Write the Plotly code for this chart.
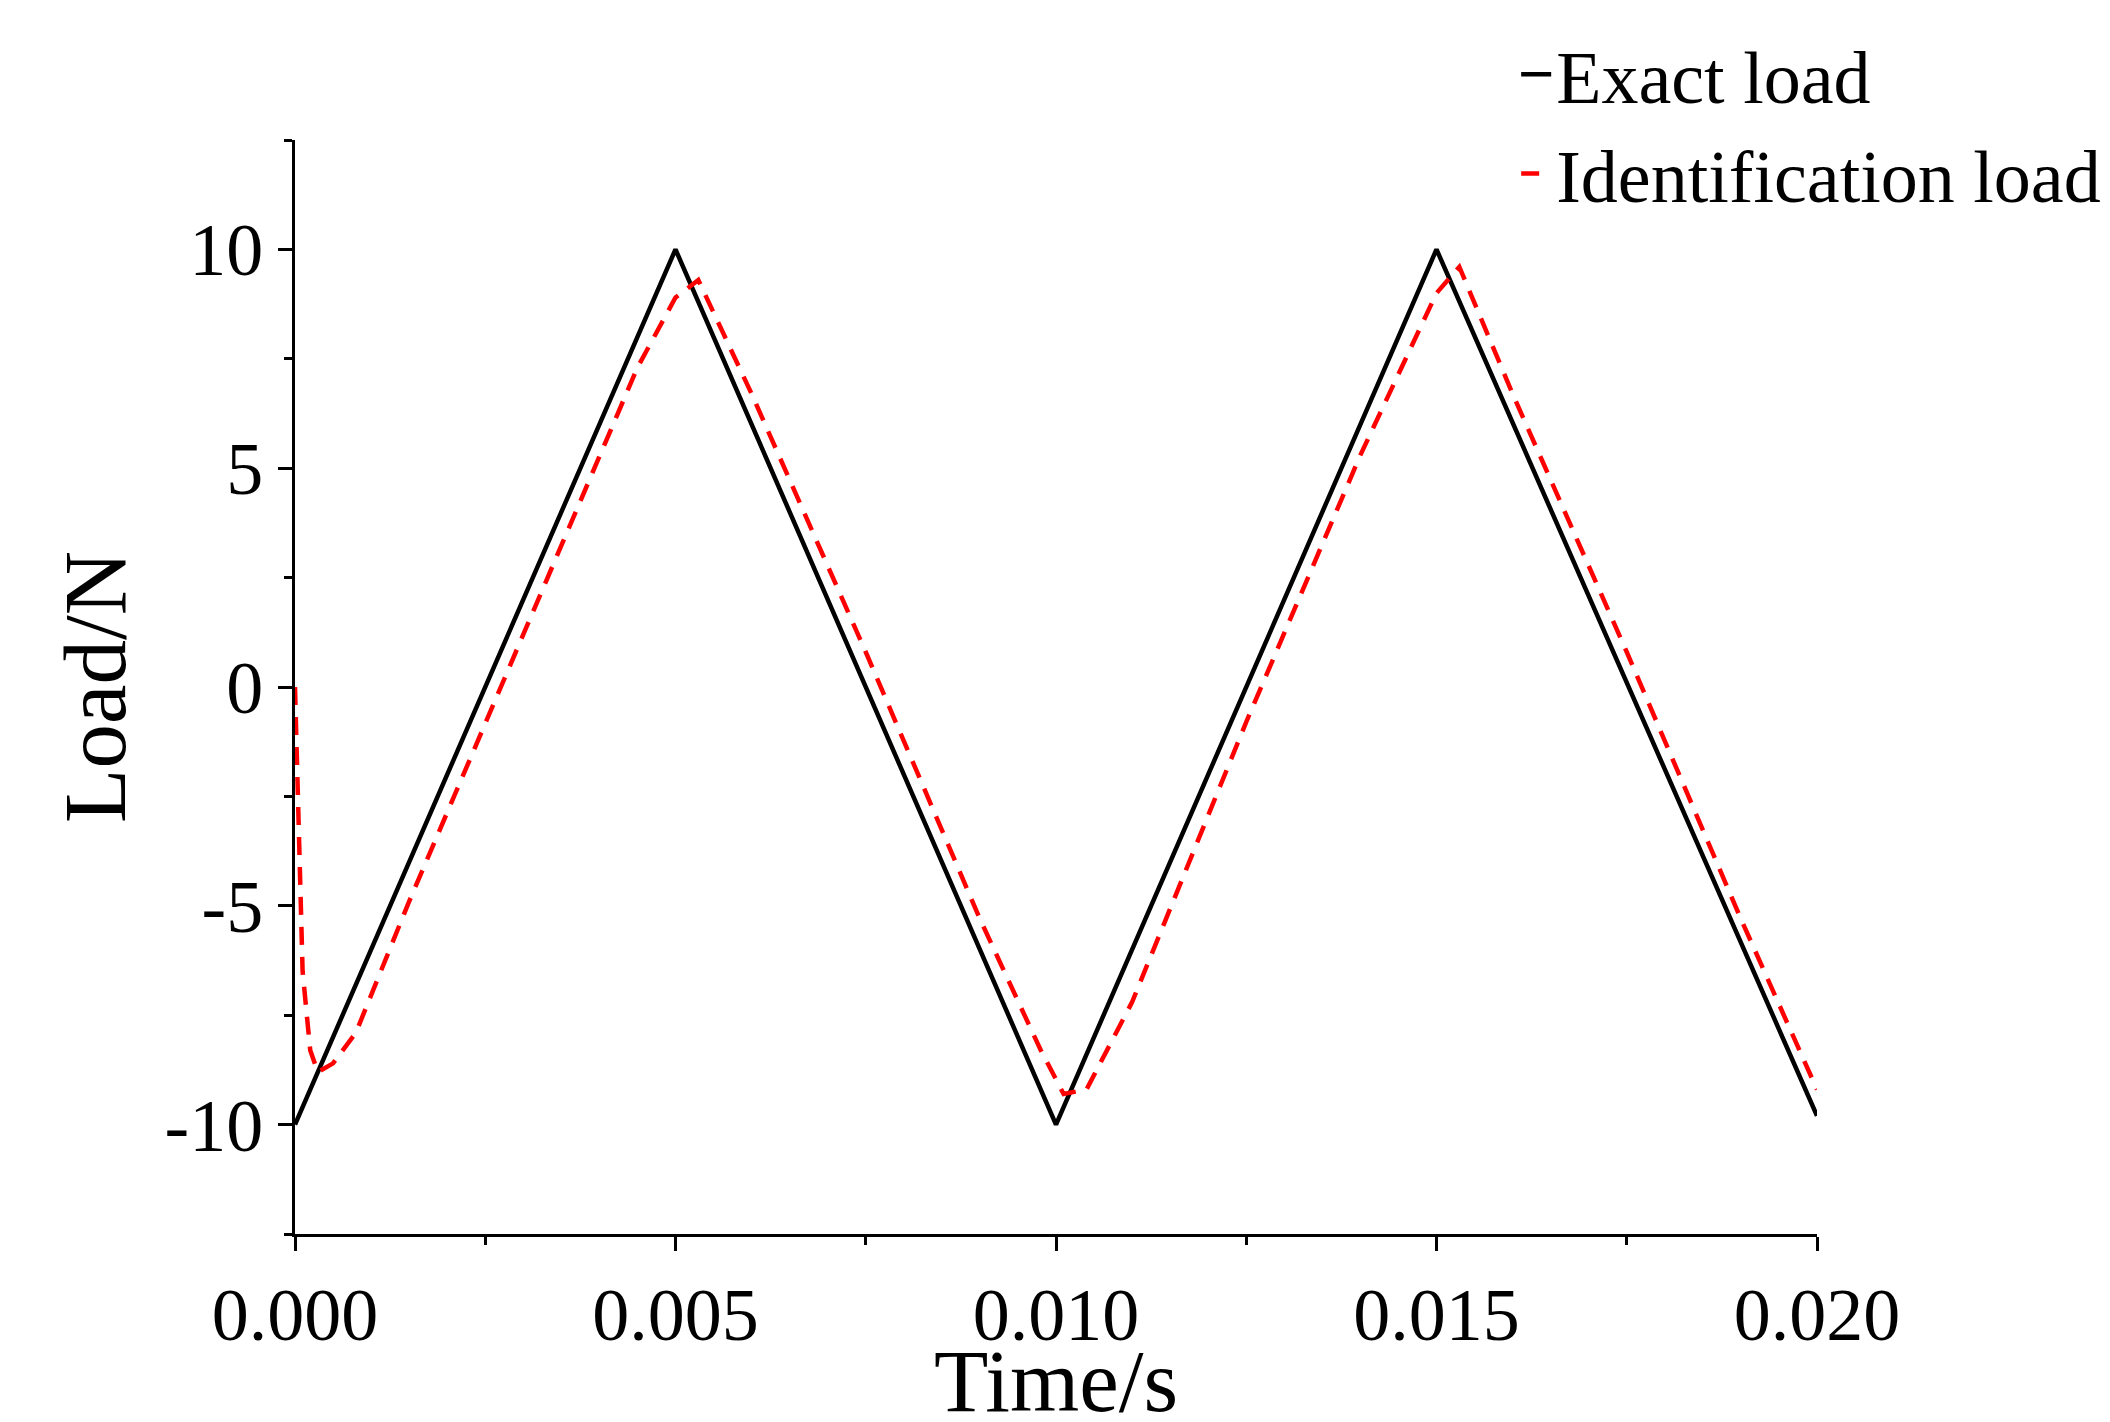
import plotly.graph_objects as go

# exact triangular load
t_exact = [0.0, 0.005, 0.010, 0.015, 0.020]
y_exact = [-10.0, 10.0, -10.0, 10.0, -9.8]

# identified load
t_ident = [0.0, 0.00005, 0.0001, 0.0002, 0.0003, 0.0005, 0.0008, 0.0015, 0.0030, 0.0045,
           0.0050, 0.0053, 0.0060, 0.0075, 0.0090, 0.0098, 0.0101, 0.0104, 0.0110,
           0.0125, 0.0140, 0.0150, 0.0153, 0.0160, 0.0175, 0.0190, 0.0200]
y_ident = [0.0, -3.0, -6.5, -8.3, -8.8, -8.6, -7.9, -4.9, 1.2, 7.3,
           8.9, 9.3, 6.7, 0.8, -5.3, -8.3, -9.3, -9.2, -7.2,
           -0.8, 5.3, 9.0, 9.6, 6.7, 0.8, -5.3, -9.2]

fig = go.Figure()
fig.add_trace(go.Scatter(x=t_exact, y=y_exact, mode="lines", name="Exact load",
                         line=dict(color="black", width=4.5)))
fig.add_trace(go.Scatter(x=t_ident, y=y_ident, mode="lines", name="Identification load",
                         line=dict(color="red", width=4.5, dash="18px,12px")))

font = dict(family="Liberation Serif, Times New Roman, serif", size=74, color="black")
axis = dict(showgrid=False, zeroline=False, showline=True, linecolor="black", linewidth=3,
            ticks="outside", ticklen=14, tickwidth=3, tickcolor="black",
            minor=dict(ticks="outside", ticklen=8, tickwidth=3, tickcolor="black"))

fig.update_layout(
    width=2110, height=1422, plot_bgcolor="white", paper_bgcolor="white", font=font,
    margin=dict(l=287, r=188, t=117, b=200),
    showlegend=True,
    legend=dict(x=1.19, y=1.11, xanchor="right", yanchor="top", bgcolor="rgba(0,0,0,0)",
                font=dict(size=74), tracegroupgap=0),
    xaxis=dict(axis, range=[0, 0.020], tickvals=[0, 0.005, 0.010, 0.015, 0.020],
               ticktext=["0.000", "0.005", "0.010", "0.015", "0.020"],
               minor=dict(axis["minor"], tickvals=[0.0025, 0.0075, 0.0125, 0.0175]),
               title=dict(text="Time/s", standoff=0)),
    yaxis=dict(axis, range=[-12.5, 12.5], tickvals=[-10, -5, 0, 5, 10],
               ticktext=["-10", "-5", "0", "5", "10"],
               minor=dict(axis["minor"], tickvals=[-12.5, -7.5, -2.5, 2.5, 7.5, 12.5]),
               title=dict(text="Load/N", standoff=10)),
)
fig.update_layout(margin=dict(t=75, b=180))
fig.write_html("out.html")
